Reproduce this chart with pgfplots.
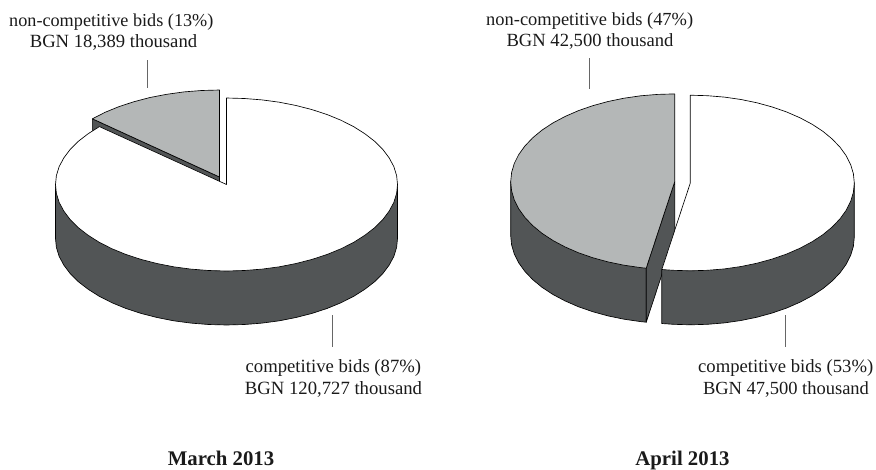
\documentclass[border=0pt]{standalone}
\usepackage{pgfplots}
\pgfplotsset{compat=1.18}
\usepackage{fontspec}
\setmainfont{Liberation Serif}
\definecolor{pieGrey}{HTML}{B4B7B7}
\definecolor{pieDark}{HTML}{525556}
\definecolor{leader}{HTML}{666666}
\definecolor{txt}{HTML}{1A1A1A}
\begin{document}
\begin{tikzpicture}
\begin{axis}[
  scale only axis, width=876pt, height=469pt,
  xmin=0, xmax=876, ymin=0, ymax=469, y dir=reverse,
  hide axis, clip=false,
  every axis plot/.append style={no markers, line width=0.65pt, line join=round},
]
\path[use as bounding box] (axis cs:0,0) rectangle (axis cs:876,469);
% --- March 2013: non-competitive wall
\addplot[fill=pieDark, draw=black] coordinates {(92.4,118.8)(219.5,177)(219.5,231)(92.4,172.8)} -- cycle;
% non-competitive top
\addplot[fill=pieGrey, draw=black] coordinates {(92.4,118.8)(105.1,112.3)(119.0,106.6)(134.0,101.7)(150.0,97.5)(166.7,94.3)(183.9,91.9)(201.6,90.5)(219.5,90.0)(219.5,177)} -- cycle;
% competitive wall
\addplot[fill=pieDark, draw=black] coordinates {(397.5,184.5)(397.5,238.5)(396.6,247.5)(393.8,256.5)(389.1,265.2)(382.7,273.7)(374.6,281.75)(364.8,289.3)(353.6,296.4)(340.9,302.8)(327.0,308.5)(312.0,313.4)(296.0,317.5)(279.3,320.8)(262.1,323.1)(244.4,324.5)(226.5,325.0)(208.6,324.5)(190.9,323.1)(173.7,320.8)(157.0,317.5)(141.0,313.4)(126.0,308.5)(112.1,302.8)(99.4,296.4)(88.2,289.3)(78.4,281.75)(70.3,273.7)(63.9,265.2)(59.2,256.5)(56.4,247.5)(55.5,238.5)(55.5,184.5)} -- cycle;
% competitive top
\addplot[fill=white, draw=black] coordinates {(226.5,98.0)(244.4,98.5)(262.1,99.9)(279.3,102.2)(296.0,105.5)(312.0,109.6)(327.0,114.5)(340.9,120.2)(353.6,126.6)(364.8,133.7)(374.6,141.25)(382.7,149.3)(389.1,157.8)(393.8,166.5)(396.6,175.5)(397.5,184.5)(396.6,193.5)(393.8,202.5)(389.1,211.2)(382.7,219.7)(374.6,227.75)(364.8,235.3)(353.6,242.4)(340.9,248.8)(327.0,254.5)(312.0,259.4)(296.0,263.5)(279.3,266.8)(262.1,269.1)(244.4,270.5)(226.5,271.0)(208.6,270.5)(190.9,269.1)(173.7,266.8)(157.0,263.5)(141.0,259.4)(126.0,254.5)(112.1,248.8)(99.4,242.4)(88.2,235.3)(78.4,227.75)(70.3,219.7)(63.9,211.2)(59.2,202.5)(56.4,193.5)(55.5,184.5)(56.4,175.5)(59.2,166.5)(63.9,157.8)(70.3,149.3)(78.4,141.25)(88.2,133.7)(99.4,126.6)(226.5,184.5)} -- cycle;
% --- April 2013: non-competitive outer wall
\addplot[fill=pieDark, draw=black] coordinates {(510.7,181.7)(510.7,235.7)(511.6,244.9)(514.3,254.0)(518.7,262.8)(524.9,271.4)(532.7,279.6)(542.0,287.3)(552.8,294.4)(565.0,300.9)(578.3,306.7)(592.7,311.7)(608.0,315.9)(624.0,319.2)(640.6,321.6)(646.2,322.2)(646.2,268.2)} -- cycle;
% cut wall
\addplot[fill=pieDark, draw=black] coordinates {(674.7,181.7)(646.2,268.2)(646.2,322.2)(674.7,235.7)} -- cycle;
% non-competitive top
\addplot[fill=pieGrey, draw=black] coordinates {(646.2,268.2)(640.6,267.6)(624.0,265.2)(608.0,261.9)(592.7,257.7)(578.3,252.7)(565.0,246.9)(552.8,240.4)(542.0,233.3)(532.7,225.6)(524.9,217.4)(518.7,208.8)(514.3,200.0)(511.6,190.9)(510.7,181.7)(511.6,172.5)(514.3,163.4)(518.7,154.6)(524.9,146.0)(532.7,137.8)(542.0,130.1)(552.8,123.0)(565.0,116.5)(578.3,110.7)(592.7,105.7)(608.0,101.5)(624.0,98.2)(640.6,95.8)(657.6,94.4)(674.7,93.9)(674.7,181.7)} -- cycle;
% competitive wall
\addplot[fill=pieDark, draw=black] coordinates {(854.3,183)(854.3,237)(853.4,246.2)(850.7,255.3)(846.3,264.1)(840.1,272.7)(832.3,280.9)(823.0,288.6)(812.2,295.7)(800.0,302.2)(786.7,308.0)(772.3,313.0)(757.0,317.2)(741.0,320.5)(724.4,322.9)(707.4,324.3)(690.3,324.8)(673.2,324.3)(661.8,323.5)(661.8,269.5)} -- cycle;
% competitive top
\addplot[fill=white, draw=black] coordinates {(690.3,95.2)(707.4,95.7)(724.4,97.1)(741.0,99.5)(757.0,102.8)(772.3,107.0)(786.7,112.0)(800.0,117.8)(812.2,124.3)(823.0,131.4)(832.3,139.1)(840.1,147.3)(846.3,155.9)(850.7,164.7)(853.4,173.8)(854.3,183.0)(853.4,192.2)(850.7,201.3)(846.3,210.1)(840.1,218.7)(832.3,226.9)(823.0,234.6)(812.2,241.7)(800.0,248.2)(786.7,254.0)(772.3,259.0)(757.0,263.2)(741.0,266.5)(724.4,268.9)(707.4,270.3)(690.3,270.8)(673.2,270.3)(661.8,269.5)(690.3,183)} -- cycle;
% leader lines
\addplot[draw=leader, line width=1pt] coordinates {(147,60)(147,88)};
\addplot[draw=leader, line width=1pt] coordinates {(332,315)(332,346.7)};
\addplot[draw=leader, line width=1pt] coordinates {(589,58)(589,89)};
\addplot[draw=leader, line width=1pt] coordinates {(785,315)(785,346.7)};
% labels
\tikzset{t/.style={anchor=base, inner sep=0pt, text=txt, font=\fontsize{#1}{22}\selectfont},
         b/.style={anchor=base, inner sep=0pt, text=txt, font=\fontsize{20.8}{24}\selectfont\bfseries}}
\node[t=18.2] at (axis cs:111.3,26) {non-competitive bids (13\%)};
\node[t=18.65] at (axis cs:113.5,47.7) {BGN 18,389 thousand};
\node[t=18.45] at (axis cs:589.7,25) {non-competitive bids (47\%)};
\node[t=18.6] at (axis cs:590,46.7) {BGN 42,500 thousand};
\node[t=18.7] at (axis cs:333.4,372.3) {competitive bids (87\%)};
\node[t=18.7] at (axis cs:333.5,394) {BGN 120,727 thousand};
\node[t=18.65] at (axis cs:785.7,372.3) {competitive bids (53\%)};
\node[t=18.5] at (axis cs:786,394) {BGN 47,500 thousand};
\node[b] at (axis cs:221,465) {March 2013};
\node[b] at (axis cs:682.5,465) {April 2013};
\end{axis}
\end{tikzpicture}
\end{document}
